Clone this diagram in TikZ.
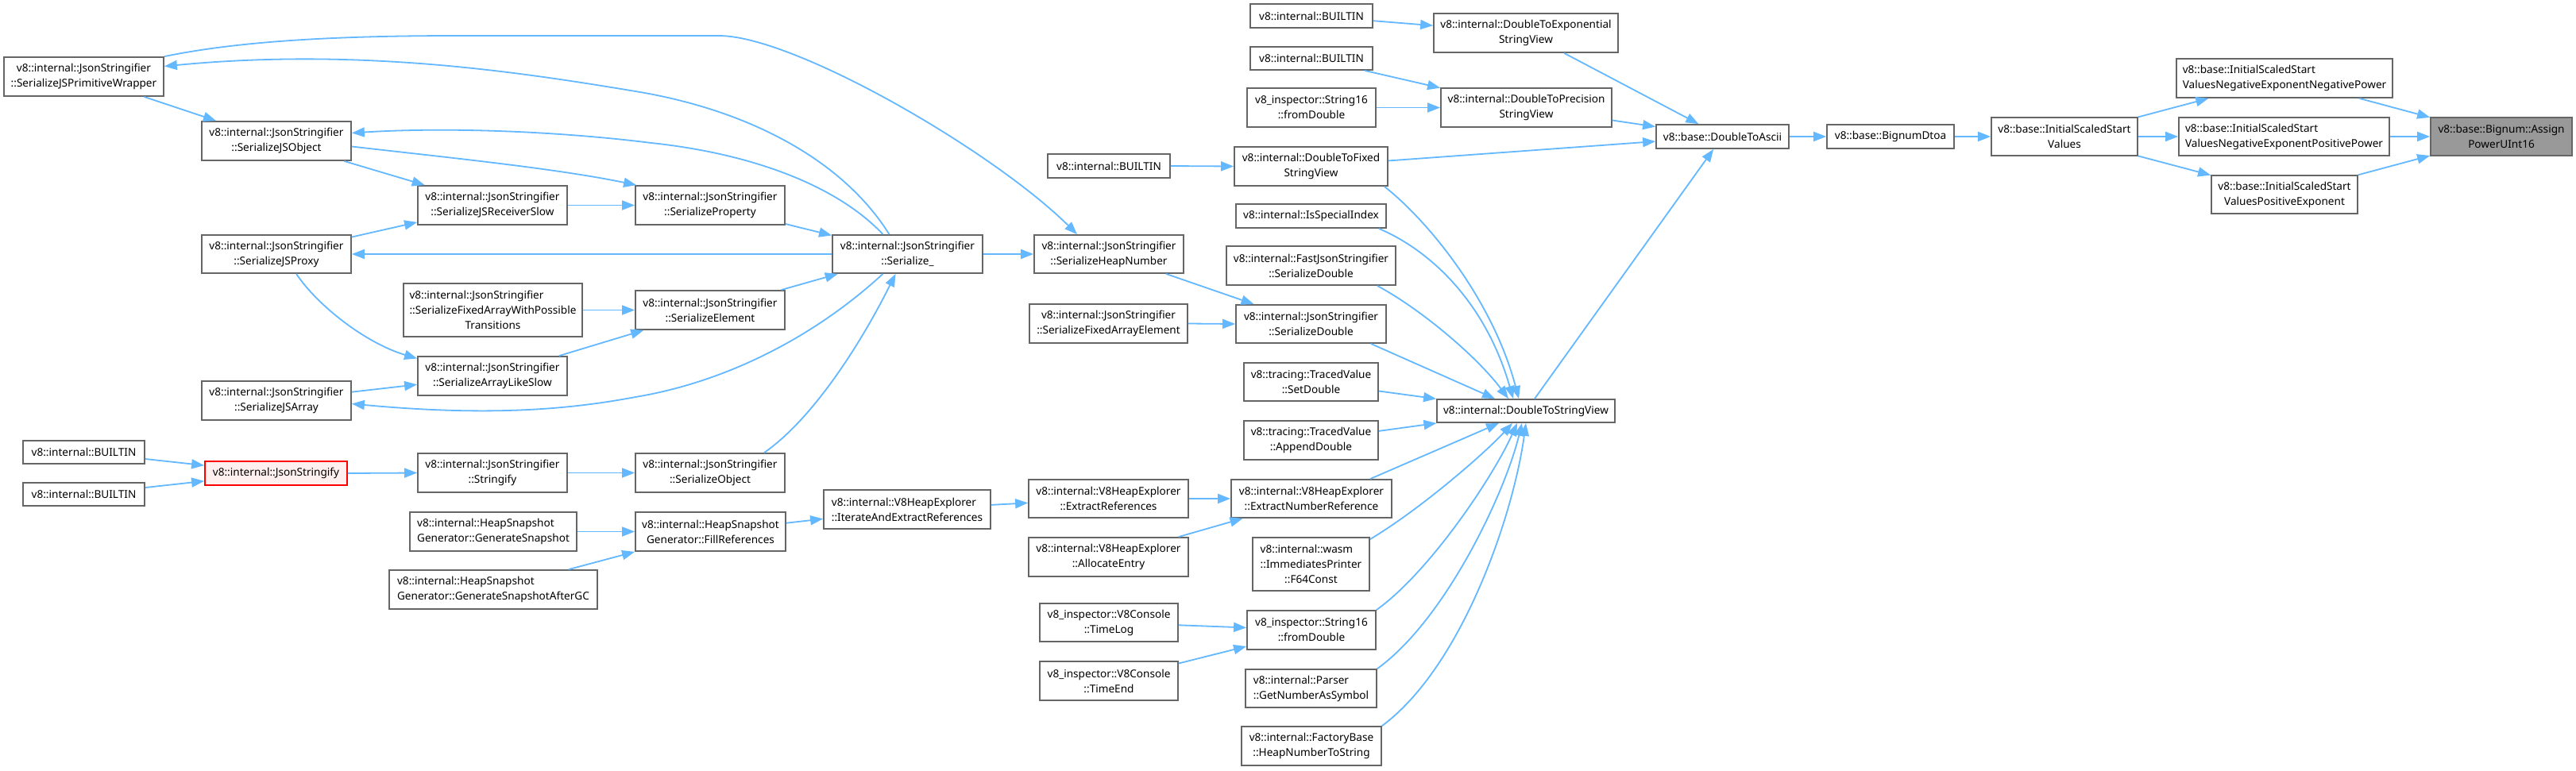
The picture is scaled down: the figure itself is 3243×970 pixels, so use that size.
\documentclass[tikz,border=0pt]{standalone}
\usepackage{fontspec}
\newfontfamily\nodefont{Noto Sans}
\usetikzlibrary{arrows.meta,calc}
\definecolor{edgeblue}{HTML}{63B8FF}
\definecolor{boxgray}{HTML}{666666}
\definecolor{hlred}{HTML}{FF0000}
\definecolor{hlfill}{HTML}{FFF0F0}
\definecolor{curfill}{HTML}{999999}
\newcommand{\lft}[2]{\makebox[0pt][l]{#1}\phantom{#2}}
\tikzset{
  box/.style={draw=boxgray, fill=white, line width=1.8pt, inner sep=0pt, align=center,
    font=\nodefont\fontsize{13.6pt}{19pt}\selectfont},
  hlbox/.style={box, draw=hlred, fill=hlfill},
  curbox/.style={box, fill=curfill},
  edge/.style={draw=edgeblue, line width=1.8pt, -{Triangle[length=16pt,width=12pt]}}
}
\begin{document}
\begin{tikzpicture}[x=1pt,y=-1pt]
\fill[white] (0,0) rectangle (3243,970);
\useasboundingbox (0,0) rectangle (3243,970);

% left column
\node[box,minimum width=201pt,minimum height=49pt] (pw) at (105.5,96.5) {v8::internal::JsonStringifier\\::SerializeJSPrimitiveWrapper};
\node[box,minimum width=153pt,minimum height=29pt] (b1) at (105.5,569.5) {v8::internal::BUILTIN};
\node[box,minimum width=153pt,minimum height=29pt] (b2) at (105.5,622.5) {v8::internal::BUILTIN};

\node[box,minimum width=188pt,minimum height=49pt] (jso) at (348,177.5) {v8::internal::JsonStringifier\\::SerializeJSObject};
\node[box,minimum width=188pt,minimum height=48pt] (jsp) at (348,320) {v8::internal::JsonStringifier\\::SerializeJSProxy};
\node[box,minimum width=188pt,minimum height=49pt] (jsa) at (348,504.5) {v8::internal::JsonStringifier\\::SerializeJSArray};
\node[hlbox,minimum width=179pt,minimum height=30pt] (jst) at (347.5,596) {v8::internal::JsonStringify};

\node[box,minimum width=188pt,minimum height=49pt] (rsl) at (620,258.5) {v8::internal::JsonStringifier\\::SerializeJSReceiverSlow};
\node[box,minimum width=225pt,minimum height=67pt] (fap) at (620.5,390.5) {\lft{v8::internal::JsonStringifier}{::SerializeFixedArrayWithPossible}\\::SerializeFixedArrayWithPossible\\Transitions};
\node[box,minimum width=188pt,minimum height=49pt] (als) at (620,473.5) {v8::internal::JsonStringifier\\::SerializeArrayLikeSlow};
\node[box,minimum width=188pt,minimum height=49pt] (str) at (620,595.5) {v8::internal::JsonStringifier\\::Stringify};
\node[box,minimum width=210pt,minimum height=49pt] (gs) at (621,669.5) {\lft{v8::internal::HeapSnapshot}{Generator::GenerateSnapshot}\\Generator::GenerateSnapshot};
\node[box,minimum width=262pt,minimum height=49pt] (gsa) at (621,742.5) {\lft{v8::internal::HeapSnapshot}{Generator::GenerateSnapshotAfterGC}\\Generator::GenerateSnapshotAfterGC};

\node[box,minimum width=188pt,minimum height=49pt] (sp) at (894,258.5) {v8::internal::JsonStringifier\\::SerializeProperty};
\node[box,minimum width=188pt,minimum height=49pt] (se) at (894,390.5) {v8::internal::JsonStringifier\\::SerializeElement};
\node[box,minimum width=188pt,minimum height=49pt] (so) at (894,595.5) {v8::internal::JsonStringifier\\::SerializeObject};
\node[box,minimum width=189pt,minimum height=49pt] (fr) at (894.5,669.5) {v8::internal::HeapSnapshot\\Generator::FillReferences};

\node[box,minimum width=189pt,minimum height=48pt] (ser) at (1142.5,320) {v8::internal::JsonStringifier\\::Serialize\_};
\node[box,minimum width=210pt,minimum height=49pt] (iae) at (1142,641.5) {\lft{v8::internal::V8HeapExplorer}{::IterateAndExtractReferences}\\::IterateAndExtractReferences};

\node[box,minimum width=154pt,minimum height=30pt] (b3) at (1396,209) {v8::internal::BUILTIN};
\node[box,minimum width=188pt,minimum height=48pt] (shn) at (1396,320) {v8::internal::JsonStringifier\\::SerializeHeapNumber};
\node[box,minimum width=199pt,minimum height=49pt] (sfae) at (1395.5,407.5) {v8::internal::JsonStringifier\\::SerializeFixedArrayElement};
\node[box,minimum width=201pt,minimum height=48pt] (er) at (1395.5,628) {v8::internal::V8HeapExplorer\\::ExtractReferences};
\node[box,minimum width=201pt,minimum height=49pt] (ae) at (1395.5,701.5) {v8::internal::V8HeapExplorer\\::AllocateEntry};
\node[box,minimum width=174pt,minimum height=48pt] (tl) at (1396,784) {v8\_inspector::V8Console\\::TimeLog};
\node[box,minimum width=174pt,minimum height=49pt] (te) at (1396,857.5) {v8\_inspector::V8Console\\::TimeEnd};

% column of callers of DoubleToStringView
\node[box,minimum width=154pt,minimum height=30pt] (b4) at (1651,20) {v8::internal::BUILTIN};
\node[box,minimum width=154pt,minimum height=29pt] (b5) at (1651,73.5) {v8::internal::BUILTIN};
\node[box,minimum width=162pt,minimum height=49pt] (s16a) at (1651,135.5) {v8\_inspector::String16\\::fromDouble};
\node[box,minimum width=193pt,minimum height=49pt] (dtf) at (1650.5,209.5) {v8::internal::DoubleToFixed\\StringView};
\node[box,minimum width=189pt,minimum height=30pt] (isi) at (1650.5,272) {v8::internal::IsSpecialIndex};
\node[box,minimum width=213pt,minimum height=49pt] (fsd) at (1650.5,334.5) {v8::internal::FastJsonStringifier\\::SerializeDouble};
\node[box,minimum width=189pt,minimum height=48pt] (jsd) at (1650.5,408) {v8::internal::JsonStringifier\\::SerializeDouble};
\node[box,minimum width=169pt,minimum height=48pt] (sd) at (1650.5,481) {v8::tracing::TracedValue\\::SetDouble};
\node[box,minimum width=169pt,minimum height=49pt] (ad) at (1650.5,554.5) {v8::tracing::TracedValue\\::AppendDouble};
\node[box,minimum width=202pt,minimum height=48pt] (enr) at (1651,628) {v8::internal::V8HeapExplorer\\::ExtractNumberReference};
\node[box,minimum width=147pt,minimum height=67pt] (f64) at (1650.5,710.5) {\lft{v8::internal::wasm}{::ImmediatesPrinter}\\::ImmediatesPrinter\\::F64Const};
\node[box,minimum width=162pt,minimum height=49pt] (s16b) at (1651,793.5) {v8\_inspector::String16\\::fromDouble};
\node[box,minimum width=165pt,minimum height=48pt] (gnas) at (1650.5,867) {\lft{v8::internal::Parser}{::GetNumberAsSymbol}\\::GetNumberAsSymbol};
\node[box,minimum width=176pt,minimum height=49pt] (hnts) at (1651,939.5) {v8::internal::FactoryBase\\::HeapNumberToString};

\node[box,minimum width=232pt,minimum height=49pt] (dte) at (1921,41.5) {v8::internal::DoubleToExponential\\StringView};
\node[box,minimum width=215pt,minimum height=49pt] (dtp) at (1921.5,135.5) {v8::internal::DoubleToPrecision\\StringView};
\node[box,minimum width=224pt,minimum height=29pt] (dtsv) at (1921,517.5) {v8::internal::DoubleToStringView};

\node[box,minimum width=167pt,minimum height=30pt] (dta) at (2168.5,172) {v8::base::DoubleToAscii};
\node[box,minimum width=160pt,minimum height=30pt] (bd) at (2380,172) {v8::base::BignumDtoa};
\node[box,minimum width=184pt,minimum height=48pt] (issv) at (2599,172) {v8::base::InitialScaledStart\\Values};
\node[box,minimum width=272pt,minimum height=49pt] (nn) at (2876,98.5) {\lft{v8::base::InitialScaledStart}{ValuesNegativeExponentNegativePower}\\ValuesNegativeExponentNegativePower};
\node[box,minimum width=265pt,minimum height=48pt] (np) at (2875.5,172) {\lft{v8::base::InitialScaledStart}{ValuesNegativeExponentPositivePower}\\ValuesNegativeExponentPositivePower};
\node[box,minimum width=184pt,minimum height=48pt] (pe) at (2876,245) {v8::base::InitialScaledStart\\ValuesPositiveExponent};
\node[curbox,minimum width=178pt,minimum height=48pt] (apu) at (3149,172) {v8::base::Bignum::Assign\\PowerUInt16};

% edges: right part
\draw[edge] (nn) -- (apu);
\draw[edge] (np.east) -- (apu.west);
\draw[edge] (pe) -- (apu);
\draw[edge] (issv) -- (nn);
\draw[edge] (issv.east) -- (np.west);
\draw[edge] (issv) -- (pe);
\draw[edge] (bd.east) -- (issv.west);
\draw[edge] (dta.east) -- (bd.west);
\draw[edge] (dte) -- (dta);
\draw[edge] (dtp) -- (dta);
\draw[edge] (dtf) -- (dta);
\draw[edge] (dtsv) -- (dta);
\draw[edge] (b4) -- (dte);
\draw[edge] (b5) -- (dtp);
\draw[edge] (s16a.east) -- (dtp.west);
\draw[edge] (b3.east) -- (dtf.west);

% into DoubleToStringView
\draw[edge] ($(dtf.south east)+(-5,0)$) .. controls (1800,280) and (1880,380) .. ($(dtsv.north)+(-9,0)$);
\draw[edge] ($(isi.south east)+(-10,0)$) .. controls (1800,315) and (1870,380) .. ($(dtsv.north)+(-16,0)$);
\draw[edge] ($(fsd.south east)+(-24,0)$) .. controls (1790,390) and (1860,450) .. ($(dtsv.north)+(-22,0)$);
\draw[edge] ($(jsd.south east)+(-20,0)$) -- ($(dtsv.north)+(-39,0)$);
\draw[edge] (sd) -- (dtsv);
\draw[edge] (ad) -- (dtsv);
\draw[edge] ($(enr.north)+(74,0)$) -- ($(dtsv.south)+(-34,0)$);
\draw[edge] ($(f64.north east)+(0,3)$) .. controls (1790,640) and (1870,570) .. ($(dtsv.south)+(-17,0)$);
\draw[edge] (s16b.north east) .. controls (1800,720) and (1880,600) .. ($(dtsv.south)+(-11,0)$);
\draw[edge] (gnas.north east) .. controls (1820,780) and (1895,620) .. ($(dtsv.south)+(-5,0)$);
\draw[edge] (hnts.north east) .. controls (1840,840) and (1905,650) .. (dtsv.south);

% middle
\draw[edge] (shn) -- (jsd);
\draw[edge] (sfae.east) -- (jsd.west);
\draw[edge] (ser.east) -- (shn.west);
\draw[edge] (pw.north east) .. controls (300,52) and (420,45) .. (575,45) -- (905,45) .. controls (1000,45) and (1250,190) .. ($(shn.north)+(-40,0)$);
\draw[edge] (er.east) -- (enr.west);
\draw[edge] (ae) -- (enr);
\draw[edge] (tl) -- (s16b);
\draw[edge] (te) -- (s16b);
\draw[edge] (iae) -- (er);
\draw[edge] (fr) -- (iae);
\draw[edge] (gs.east) -- (fr.west);
\draw[edge] (gsa) -- (fr);

% left part
\draw[edge] ($(ser.north)+(-23,0)$) .. controls (1060,200) and (940,138) .. (800,115) .. controls (650,90) and (450,60) .. ($(pw.east)+(0,-13)$);
\draw[edge] (pw) -- (jso);
\draw[edge] ($(ser.north)+(-31,0)$) .. controls (1060,240) and (960,195) .. (820,180) .. controls (700,165) and (560,160) .. ($(jso.east)+(0,-10)$);
\draw[edge] ($(jso.east)+(0,7)$) .. controls (560,198) and (700,212) .. ($(sp.north west)+(2,0)$);
\draw[edge] (jso) -- (rsl);
\draw[edge] (rsl.east) -- (sp.west);
\draw[edge] (jsp) -- (rsl);
\draw[edge] (ser.west) -- (jsp.east);
\draw[edge] ($(jsp.south)+(25,0)$) .. controls (400,385) and (460,432) .. ($(als.west)+(0,-22)$);
\draw[edge] (fap.east) -- (se.west);
\draw[edge] (als) -- (se);
\draw[edge] (jsa) -- (als);
\draw[edge] ($(ser.south)+(-31,0)$) .. controls (1030,420) and (920,480) .. (800,500) .. controls (720,515) and (620,525) .. ($(jsa.east)+(0,4)$);
\draw[edge] (sp) -- (ser);
\draw[edge] (se) -- (ser);
\draw[edge] ($(so.north)+(68,0)$) .. controls (1020,530) and (1080,440) .. ($(ser.south)+(-15,0)$);
\draw[edge] (jst.east) -- (str.west);
\draw[edge] (str.east) -- (so.west);
\draw[edge] (b1) -- (jst);
\draw[edge] (b2) -- (jst);
\end{tikzpicture}
\end{document}
